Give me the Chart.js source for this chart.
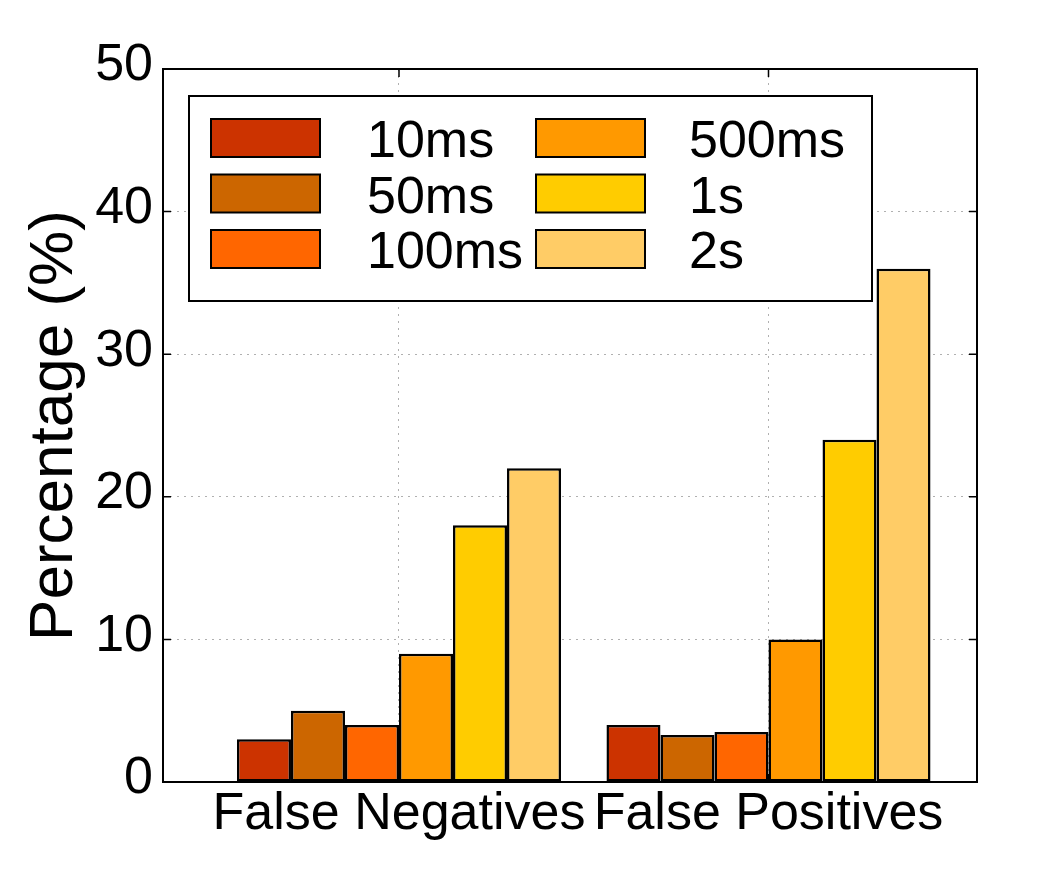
<!DOCTYPE html>
<html><head><meta charset="utf-8">
<script src="https://cdn.jsdelivr.net/npm/chart.js@4/dist/chart.umd.min.js"></script>
<style>html,body{margin:0;padding:0;background:#fff}canvas{display:block}</style>
</head><body>
<canvas id="c" width="1050" height="870"></canvas>
<script>
// ---- data ----
const categories = ['False Negatives', 'False Positives'];
const seriesLabels = ['10ms', '50ms', '100ms', '500ms', '1s', '2s'];
const v10ms  = [3, 4];
const v50ms  = [5, 3.3];
const v100ms = [4, 3.5];
const v500ms = [9, 10];
const v1s    = [18, 24];
const v2s    = [22, 36];
const yTickValues = [0, 10, 20, 30, 40, 50];
const seriesColors = ['#CC3300', '#CC6600', '#FF6600', '#FF9900', '#FFCC00', '#FFCC66'];
const seriesValues = [v10ms, v50ms, v100ms, v500ms, v1s, v2s];

const FONT = '"Liberation Sans", Arial, Helvetica, sans-serif';

const datasets = seriesLabels.map((lab, s) => ({
  label: lab,
  data: categories.map((c, i) => ({ x: i, y: seriesValues[s][i] })),
  backgroundColor: seriesColors[s],
  borderColor: '#000',
  borderWidth: 2.5,
  borderSkipped: false,
  categoryPercentage: 0.877,
  barPercentage: 1.0
}));

const framePlugin = {
  id: 'frame',
  afterDatasetsDraw(chart) {
    const { ctx, chartArea: a, scales } = chart;
    ctx.save();
    ctx.strokeStyle = '#000';
    ctx.lineWidth = 1.5;
    yTickValues.forEach(v => {
      const y = scales.y.getPixelForValue(v);
      ctx.beginPath();
      ctx.moveTo(a.left, y); ctx.lineTo(a.left + 8, y);
      ctx.moveTo(a.right, y); ctx.lineTo(a.right - 8, y);
      ctx.stroke();
    });
    categories.forEach((c, i) => {
      const x = scales.x.getPixelForValue(i);
      ctx.beginPath();
      ctx.moveTo(x, a.top); ctx.lineTo(x, a.top + 8);
      ctx.moveTo(x, a.bottom); ctx.lineTo(x, a.bottom - 8);
      ctx.stroke();
    });
    ctx.lineWidth = 2;
    ctx.strokeRect(a.left, a.top, a.right - a.left, a.bottom - a.top);
    ctx.restore();
  },
  afterDraw(chart) {
    const { ctx, chartArea: a } = chart;
    const bx = a.left + 26, by = a.top + 27, bw = 683, bh = 205;
    ctx.save();
    ctx.fillStyle = '#fff';
    ctx.fillRect(bx, by, bw, bh);
    ctx.strokeStyle = '#000';
    ctx.lineWidth = 2;
    ctx.strokeRect(bx, by, bw, bh);
    ctx.font = '52px ' + FONT;
    ctx.textBaseline = 'alphabetic';
    ctx.textAlign = 'left';
    chart.data.datasets.forEach((ds, i) => {
      const col = Math.floor(i / 3), row = i % 3;
      const sx = bx + 22 + col * 325;
      const sy = by + 23 + row * 55.5;
      ctx.fillStyle = ds.backgroundColor;
      ctx.fillRect(sx, sy, 109, 38);
      ctx.lineWidth = 2;
      ctx.strokeStyle = '#000';
      ctx.strokeRect(sx, sy, 109, 38);
      ctx.fillStyle = '#000';
      ctx.fillText(ds.label, sx + 156 - col * 3, sy + 38);
    });
    ctx.restore();
  }
};

new Chart(document.getElementById('c'), {
  type: 'bar',
  data: { datasets },
  options: {
    responsive: false,
    animation: false,
    events: [],
    layout: { padding: { top: 69, right: 73, left: 0, bottom: 0 } },
    plugins: { legend: { display: false }, tooltip: { enabled: false } },
    scales: {
      x: {
        type: 'linear',
        offset: false,
        min: -0.6387,
        max: 1.5643,
        afterBuildTicks: (scale) => { scale.ticks = categories.map((c, i) => ({ value: i })); },
        afterFit: (scale) => { scale.height = 88; },
        ticks: {
          callback: (v) => categories[v] !== undefined ? categories[v] : '',
          font: { family: FONT, size: 52 },
          color: '#000',
          padding: 1,
          maxRotation: 0,
          autoSkip: false
        },
        grid: { color: '#b0b0b0', lineWidth: 1, drawTicks: false, offset: false },
        border: { display: false, dash: [2, 5] }
      },
      y: {
        min: 0,
        max: 50,
        afterBuildTicks: (scale) => { scale.ticks = yTickValues.map(v => ({ value: v })); },
        afterFit: (scale) => { scale.width = 163; },
        ticks: {
          font: { family: FONT, size: 52 },
          color: '#000',
          padding: 10,
          labelOffset: -3
        },
        grid: { color: '#b0b0b0', lineWidth: 1, drawTicks: false },
        border: { display: false, dash: [2, 5] },
        title: {
          display: true,
          text: 'Percentage (%)',
          font: { family: FONT, size: 62, lineHeight: 1 },
          color: '#000',
          padding: { top: 24, bottom: 0 }
        }
      }
    }
  },
  plugins: [framePlugin]
});
</script>
</body></html>
